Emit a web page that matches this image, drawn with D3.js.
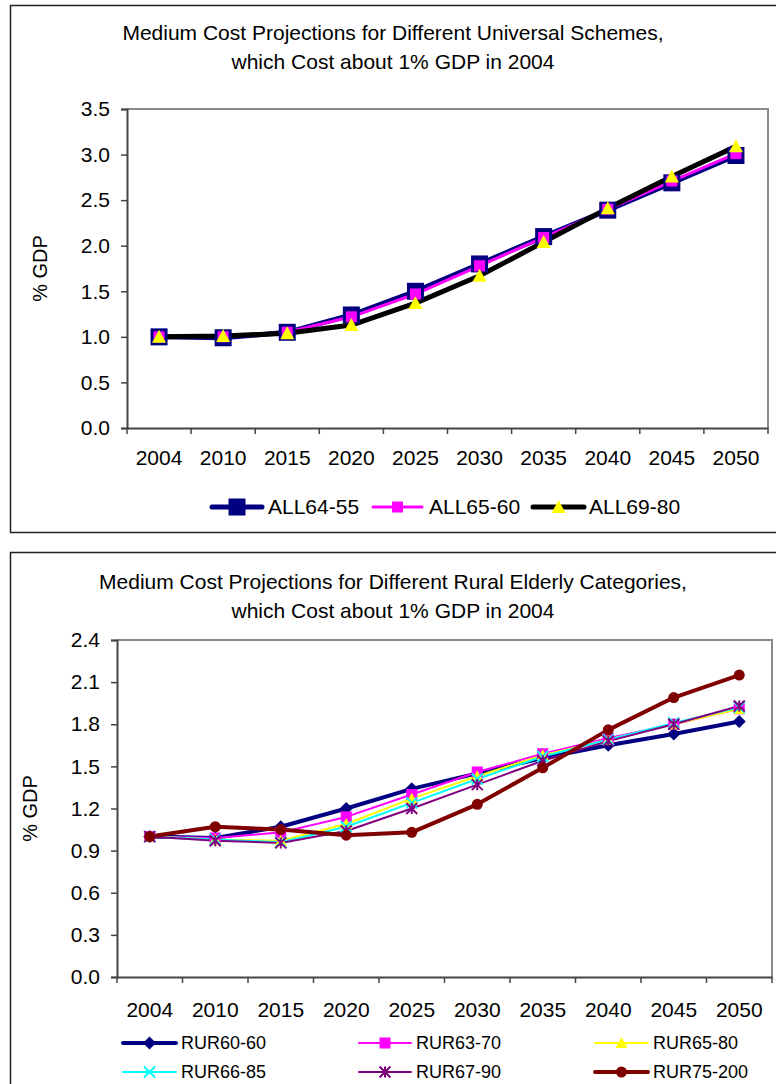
<!DOCTYPE html>
<html>
<head>
<meta charset="utf-8">
<script src="https://cdn.jsdelivr.net/npm/d3@7"></script>
<style>
  html, body { margin: 0; padding: 0; background: #fff; }
  svg { display: block; font-family: "Liberation Sans", Arial, sans-serif; }
</style>
</head>
<body>
<svg id="chart" width="776" height="1084"></svg>
<script>
// Projection years (category axis shared by both panels)
const years = ["2004", "2010", "2015", "2020", "2025", "2030", "2035", "2040", "2045", "2050"];

// Panel 1: universal schemes, % of GDP
const all64_55 = [1.00, 0.99, 1.05, 1.24, 1.50, 1.80, 2.10, 2.39, 2.69, 2.99];
const all65_60 = [1.00, 1.00, 1.05, 1.22, 1.47, 1.78, 2.09, 2.40, 2.71, 3.01];
const all69_80 = [1.00, 1.01, 1.04, 1.13, 1.37, 1.67, 2.04, 2.41, 2.76, 3.09];
const universalNames = ["ALL64-55", "ALL65-60", "ALL69-80"];
const universalTicks = [0, 0.5, 1.0, 1.5, 2.0, 2.5, 3.0, 3.5];

// Panel 2: rural elderly categories, % of GDP
const rur60_60 = [1.00, 0.99, 1.07, 1.20, 1.34, 1.45, 1.56, 1.65, 1.73, 1.82];
const rur63_70 = [1.00, 0.99, 1.03, 1.14, 1.30, 1.46, 1.59, 1.70, 1.80, 1.91];
const rur65_80 = [1.00, 0.98, 0.97, 1.09, 1.27, 1.43, 1.58, 1.69, 1.80, 1.91];
const rur66_85 = [1.00, 0.98, 0.96, 1.07, 1.24, 1.41, 1.57, 1.69, 1.81, 1.92];
const rur67_90 = [1.00, 0.97, 0.955, 1.04, 1.20, 1.37, 1.54, 1.68, 1.80, 1.93];
const rur75_200 = [1.00, 1.07, 1.05, 1.01, 1.03, 1.23, 1.49, 1.76, 1.99, 2.15];
const ruralNames = ["RUR60-60", "RUR63-70", "RUR65-80", "RUR66-85", "RUR67-90", "RUR75-200"];
const ruralTicks = [0, 0.3, 0.6, 0.9, 1.2, 1.5, 1.8, 2.1, 2.4];

const svg = d3.select("#chart");
const FONT = "Liberation Sans, Arial, sans-serif";

// Draw one marker shape centred at (cx, cy)
function marker(g, type, cx, cy, size, color) {
  const h = size / 2;
  if (type === "square") {
    g.append("rect").attr("x", cx - h).attr("y", cy - h).attr("width", size).attr("height", size).attr("fill", color);
  } else if (type === "diamond") {
    g.append("path").attr("d", `M${cx},${cy - h}L${cx + h},${cy}L${cx},${cy + h}L${cx - h},${cy}Z`).attr("fill", color);
  } else if (type === "triangle") {
    g.append("path").attr("d", `M${cx},${cy - h}L${cx + h},${cy + h * 0.85}L${cx - h},${cy + h * 0.85}Z`).attr("fill", color);
  } else if (type === "circle") {
    g.append("circle").attr("cx", cx).attr("cy", cy).attr("r", h).attr("fill", color);
  } else if (type === "x" || type === "star") {
    g.append("path")
      .attr("d", `M${cx - h},${cy - h}L${cx + h},${cy + h}M${cx - h},${cy + h}L${cx + h},${cy - h}` +
        (type === "star" ? `M${cx},${cy - h}L${cx},${cy + h}` : ""))
      .attr("stroke", color).attr("stroke-width", 2).attr("fill", "none");
  }
}

function panel(cfg) {
  const g = svg.append("g");

  // outer chart border (continues past the right edge)
  g.append("rect")
    .attr("x", 10.5).attr("y", cfg.boxTop + 0.5)
    .attr("width", 800).attr("height", cfg.boxBottom - cfg.boxTop)
    .attr("fill", "#fff").attr("stroke", "#222").attr("stroke-width", 1.5);

  // title
  cfg.title.forEach((t, i) => {
    g.append("text")
      .attr("x", 393).attr("y", cfg.titleY + i * cfg.titleGap)
      .attr("text-anchor", "middle")
      .attr("font-size", cfg.titleSize)
      .attr("fill", "#000")
      .text(t);
  });

  const x = d3.scaleBand().domain(years).range([cfg.L, cfg.R]).padding(0);
  const y = d3.scaleLinear().domain(cfg.yDomain).range([cfg.B, cfg.T]);

  // plot frame (top & right in light grey)
  g.append("path")
    .attr("d", `M${cfg.L},${cfg.T}H${cfg.R}V${cfg.B}`)
    .attr("fill", "none").attr("stroke", "#8a8a8a").attr("stroke-width", 2);

  // y axis
  const yAxis = d3.axisLeft(y).tickValues(cfg.yTicks).tickSize(6).tickPadding(cfg.yPad)
    .tickFormat(d3.format(".1f"));
  const ya = g.append("g").attr("transform", `translate(${cfg.L},0)`).call(yAxis);
  ya.select(".domain").attr("stroke", "#444").attr("stroke-width", 2);
  ya.selectAll(".tick line").attr("stroke", "#444").attr("stroke-width", 1.5);
  ya.selectAll(".tick text").attr("font-size", cfg.tickSize).attr("font-family", FONT).attr("fill", "#000");

  // x axis: labels centred in bands, ticks on band boundaries
  const xAxis = d3.axisBottom(x).tickSize(0).tickPadding(cfg.xPad);
  const xa = g.append("g").attr("transform", `translate(0,${cfg.B})`).call(xAxis);
  xa.select(".domain").attr("stroke", "#444").attr("stroke-width", 2);
  xa.selectAll(".tick text").attr("font-size", cfg.tickSize).attr("font-family", FONT).attr("fill", "#000");
  const bounds = years.map(d => x(d)).concat([x(years[years.length - 1]) + x.bandwidth()]);
  g.append("g").selectAll("line").data(bounds).join("line")
    .attr("x1", d => d).attr("x2", d => d)
    .attr("y1", cfg.B).attr("y2", cfg.B + 6)
    .attr("stroke", "#444").attr("stroke-width", 1.5);

  // y axis title
  g.append("text")
    .attr("transform", `translate(${cfg.yTitleX},${(cfg.T + cfg.B) / 2}) rotate(-90)`)
    .attr("text-anchor", "middle").attr("dominant-baseline", "middle")
    .attr("font-size", cfg.yTitleSize).attr("fill", "#000")
    .text("% GDP");

  const cx = d => x(d) + x.bandwidth() / 2;
  const line = d3.line().x((d, i) => cx(years[i])).y(d => y(d));

  // all series lines first, then markers on top
  cfg.series.forEach(s => {
    g.append("path").datum(s.values).attr("d", line)
      .attr("fill", "none").attr("stroke", s.color).attr("stroke-width", s.width)
      .attr("stroke-linejoin", "round");
  });
  cfg.series.forEach(s => {
    const mg = g.append("g");
    s.values.forEach((v, i) => marker(mg, s.marker, cx(years[i]), y(v), s.msize, s.mcolor));
  });

  // legend
  cfg.series.forEach((s, i) => {
    const p = cfg.legendPos[i];
    const lg = g.append("g");
    lg.append("line").attr("x1", p[0]).attr("x2", p[1]).attr("y1", p[3]).attr("y2", p[3])
      .attr("stroke", s.color).attr("stroke-width", s.width).attr("stroke-linecap", "round");
    marker(lg, s.marker, (p[0] + p[1]) / 2, p[3], s.msize, s.mcolor);
    lg.append("text").attr("x", p[2]).attr("y", p[3]).attr("dy", "0.35em")
      .attr("font-size", cfg.legendSize).attr("fill", "#000").text(s.name);
  });
}

panel({
  boxTop: 5, boxBottom: 532,
  title: ["Medium Cost Projections for Different Universal Schemes,", "which Cost about 1% GDP in 2004"],
  titleY: 40, titleGap: 29, titleSize: 21,
  L: 127, R: 768, T: 109, B: 428,
  yDomain: [0, 3.5], yTicks: universalTicks, yPad: 11, xPad: 22,
  tickSize: 21, yTitleX: 42, yTitleSize: 20,
  legendSize: 21,
  series: [
    { name: universalNames[0], values: all64_55, color: "#000080", width: 5, marker: "square", msize: 17, mcolor: "#000080" },
    { name: universalNames[1], values: all65_60, color: "#ff00ff", width: 3, marker: "square", msize: 11, mcolor: "#ff00ff" },
    { name: universalNames[2], values: all69_80, color: "#000000", width: 5, marker: "triangle", msize: 14, mcolor: "#ffff00" }
  ],
  legendPos: [[212, 262, 268, 507], [373, 422, 429, 507], [533, 584, 589, 507]]
});

panel({
  boxTop: 552, boxBottom: 1100,
  title: ["Medium Cost Projections for Different Rural Elderly Categories,", "which Cost about 1% GDP in 2004"],
  titleY: 589, titleGap: 29, titleSize: 21,
  L: 117, R: 772, T: 640, B: 977,
  yDomain: [0, 2.4], yTicks: ruralTicks, yPad: 11, xPad: 25,
  tickSize: 21, yTitleX: 32, yTitleSize: 20,
  legendSize: 18,
  series: [
    { name: ruralNames[0], values: rur60_60, color: "#000080", width: 4, marker: "diamond", msize: 13, mcolor: "#000080" },
    { name: ruralNames[1], values: rur63_70, color: "#ff00ff", width: 2, marker: "square", msize: 11, mcolor: "#ff00ff" },
    { name: ruralNames[2], values: rur65_80, color: "#ffff00", width: 2, marker: "triangle", msize: 12, mcolor: "#ffff00" },
    { name: ruralNames[3], values: rur66_85, color: "#00ffff", width: 2, marker: "x", msize: 11, mcolor: "#00ffff" },
    { name: ruralNames[4], values: rur67_90, color: "#800080", width: 2, marker: "star", msize: 11, mcolor: "#800080" },
    { name: ruralNames[5], values: rur75_200, color: "#800000", width: 4, marker: "circle", msize: 11, mcolor: "#800000" }
  ],
  legendPos: [[123, 176, 181, 1043], [359, 411, 416, 1043], [595, 648, 653, 1043],
              [123, 176, 181, 1072], [359, 411, 416, 1072], [595, 648, 653, 1072]]
});
</script>
</body>
</html>
